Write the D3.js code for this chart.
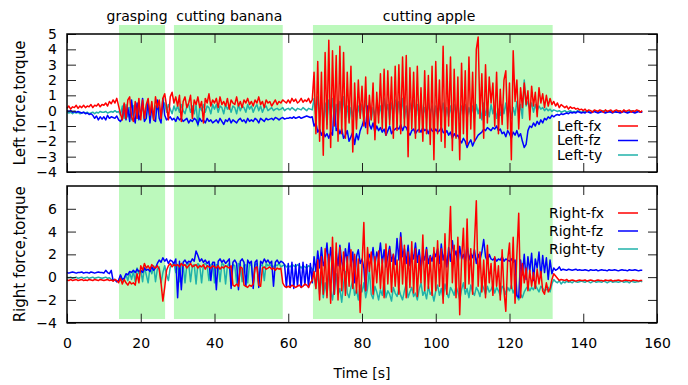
<!DOCTYPE html>
<html lang="en">
<head>
<meta charset="UTF-8">
<title>Left / right force and torque</title>
<script src="https://d3js.org/d3.v7.min.js"></script>
<style>
  body { margin: 0; background: #fff; }
  text { font-family: "DejaVu Sans", sans-serif; }
</style>
</head>
<body>
<div id="chart"></div>
<script>
// sampling step of the logged signals (s)
const tStep = 0.5;

// shaded task phases [start, end] in seconds
const phases = [
  {name: "grasping", from: 14.1, to: 26.6, labelAt: 19.0},
  {name: "cutting banana", from: 29.0, to: 58.5, labelAt: 44.0},
  {name: "cutting apple", from: 66.7, to: 131.7, labelAt: 98.2}
];

// left arm
const leftFx = [
  0.15,0.3,0.1,0.25,0.2,0.35,0.15,0.3,0.2,0.35, 0.2,0.3,0.25,0.4,0.2,0.35,0.3,0.45,0.25,0.4,
  0.35,0.5,0.3,0.6,0.45,0.7,0.5,0.8,0.3,-0.2, -0.6,0.5,-0.5,0.7,0.9,-0.4,-0.7,0.6,-0.5,0.8,
  -0.6,0.7,-0.5,0.4,0.8,-0.3,0.6,-0.6,0.9,0.2, 0.7,-0.5,0.8,1.1,0.3,-0.6,0.9,1.2,0.5,0.9,
  0.3,1.0,-0.7,0.6,0.9,0.2,0.5,1.0,-0.5,0.7, 0.4,0.9,0.2,0.6,-0.8,0.8,0.5,1.1,0.3,0.7,
  0.5,0.8,0.2,0.9,0.4,0.6,0.3,0.8,0.1,0.7, 0.5,0.4,0.9,0.3,0.6,0.2,0.7,0.5,0.8,0.4,
  0.6,0.3,0.7,0.5,0.9,0.4,0.6,0.2,0.7,0.5, 0.6,0.3,0.5,0.7,0.4,0.6,0.5,0.7,0.6,0.5,
  0.7,0.5,0.8,0.6,0.75,0.5,0.6,0.8,0.55,0.7, 0.6,0.8,0.5,0.7,2.5,-1.5,3.2,-2.0,2.5,-2.9,
  3.8,-1.2,4.6,-2.4,3.9,-1.0,3.6,-2.0,4.2,-1.5, 3.8,-1.8,2.5,-0.8,2.9,-2.7,1.8,-1.2,2.0,-0.5,
  1.6,-1.0,2.2,-1.5,1.0,-0.6,1.8,-1.9,1.2,-0.8, 2.4,-1.2,2.7,-1.6,2.6,-0.9,2.2,-1.8,2.9,-1.3,
  3.0,-1.5,3.5,-1.0,3.6,-3.0,2.8,-1.2,2.5,-1.8, 2.9,-1.4,1.5,-2.0,2.6,-1.5,2.3,-2.2,2.9,-3.2,
  3.2,-1.5,2.0,-2.0,4.2,-2.4,3.0,-1.0,3.5,-2.6, 2.7,-1.8,2.2,-3.2,3.1,-1.5,2.6,-2.2,3.5,-1.2,
  2.5,-2.0,4.0,4.8,-0.5,2.4,-1.8,3.0,-0.8,2.2, 0.5,1.8,-1.0,2.5,-1.5,1.4,-0.9,2.0,2.6,-1.2,
  1.8,-3.2,3.9,0.6,2.0,-1.2,1.5,0.2,1.8,0.4, 1.3,-0.6,1.6,0.3,1.2,-0.4,1.5,0.5,1.1,0.2,
  1.0,0.3,0.8,0.4,0.6,0.3,0.5,0.2,0.4,0.3, 0.2,0.3,0.1,0.25,0.15,0.2,0.1,0.15,0.05,0.1,
  0.0,0.1,-0.05,0.05,0.0,-0.1,0.05,0.0,-0.05,0.05, 0.0,-0.1,0.05,-0.05,0.0,0.05,-0.1,0.0,0.05,-0.05,
  0.0,-0.1,0.05,-0.05,0.0,0.05,-0.1,0.0,-0.05,0.05,0.0,-0.1,0.0
];
const leftFz = [
  0.0,-0.05,0.0,-0.1,-0.05,-0.1,-0.05,-0.1,-0.15,-0.1, -0.2,-0.15,-0.25,-0.2,-0.3,-0.5,-0.35,-0.6,-0.4,-0.55,
  -0.4,-0.6,-0.3,-0.5,-0.4,-0.45,-0.5,-0.35,-0.6,-0.7, -0.5,0.4,-0.6,0.2,-0.7,0.7,-0.3,-0.8,0.5,-0.6,
  -0.2,0.8,-0.7,-0.5,0.6,-0.8,0.3,-0.6,-0.7,0.7, -0.5,-0.8,0.8,-0.3,-0.6,-0.5,-0.4,-0.6,-0.5,-0.7,
  -0.4,-0.6,-0.5,-0.7,-0.6,-0.5,-0.8,-0.6,-0.7,-0.5, -0.6,-0.9,-0.5,-0.7,-0.6,-0.8,-0.5,-0.7,-0.6,-0.8,
  -0.7,-0.6,-0.8,-0.5,-0.7,-0.9,-0.6,-0.7,-0.5,-0.8, -0.6,-0.7,-0.8,-0.6,-0.5,-0.7,-0.6,-0.8,-0.5,-0.7,
  -0.6,-0.7,-0.5,-0.6,-0.8,-0.5,-0.6,-0.7,-0.5,-0.6, -0.55,-0.5,-0.6,-0.45,-0.5,-0.6,-0.5,-0.45,-0.55,-0.5,
  -0.5,-0.45,-0.5,-0.4,-0.5,-0.45,-0.4,-0.5,-0.45,-0.4, -0.35,-0.4,-0.45,-0.4,-1.0,-0.8,-1.4,-1.2,-1.6,-1.3,
  -1.7,-1.5,-1.8,-1.4,-1.6,0.5,-1.3,-1.1,-1.5,-1.2, -1.8,-1.6,-1.3,-2.0,-1.7,-1.4,-2.2,-1.5,-1.9,-1.3,
  -1.0,-0.6,-1.1,0.3,-0.9,-1.2,-0.8,-1.4,-1.0,-1.3, -1.1,-1.4,-1.2,-1.6,-1.3,-1.0,-1.5,-1.3,-1.2,-1.1,
  -1.2,-0.9,-1.3,-1.0,-1.1,-1.4,-1.6,-1.3,-1.2,-1.5, -1.3,-1.2,-1.4,-1.1,-1.3,-1.2,-1.5,-1.1,-1.3,-1.4,
  -1.2,-1.4,-1.3,-1.1,-1.4,-1.5,-1.3,-1.6,-1.4,-1.8, -1.5,-1.7,-1.6,-1.9,-2.1,-1.8,-2.0,-2.4,-2.1,-1.9,
  -2.3,-2.0,-1.8,-1.6,-1.5,-1.4,-1.2,-1.3,-1.1,-1.2, -1.3,-1.1,-1.2,-1.0,-1.3,-1.2,-1.5,-1.4,-1.7,-1.3,
  -1.5,-1.8,-1.4,-1.6,-1.3,-1.7,-1.5,-2.0,-2.4,-2.2, -1.3,-1.0,-1.1,-0.8,-1.0,-0.7,-0.9,-0.6,-0.8,-0.5,
  -0.6,-0.4,-0.5,-0.3,-0.4,-0.3,-0.25,-0.3,-0.2,-0.25, -0.2,-0.15,-0.2,-0.1,-0.15,-0.1,-0.15,-0.05,-0.1,-0.15,
  -0.1,-0.15,-0.05,-0.1,-0.15,-0.1,-0.05,-0.1,-0.15,-0.1, -0.05,-0.1,-0.15,-0.1,-0.05,-0.1,-0.15,-0.05,-0.1,-0.1,
  -0.15,-0.1,-0.05,-0.1,-0.15,-0.1,-0.05,-0.1,-0.15,-0.1,-0.05,-0.1,-0.1
];
const leftTy = [
  -0.1,-0.15,-0.1,-0.2,-0.1,-0.15,-0.1,-0.2,-0.15,-0.1, -0.15,-0.1,-0.2,-0.15,-0.1,-0.2,-0.1,-0.15,-0.05,-0.1,
  -0.1,-0.05,-0.15,-0.1,-0.05,-0.1,0.0,-0.1,-0.05,-0.3, 0.3,-0.5,0.4,-0.4,0.2,-0.6,0.3,0.4,-0.5,0.2,
  -0.3,0.4,-0.6,0.3,0.1,-0.4,0.5,-0.5,0.3,0.1, 0.2,-0.3,0.3,0.5,-0.1,0.4,0.1,-0.2,0.3,0.0,
  0.3,-0.1,0.4,0.0,-0.2,0.3,0.4,-0.1,0.3,-0.2, 0.4,-1.0,0.3,0.0,0.4,-0.1,0.3,0.2,-0.2,0.4,
  0.1,0.4,-0.1,0.3,0.2,-0.2,0.4,0.1,0.3,-0.1, 0.3,0.2,-0.2,0.4,0.0,0.3,0.2,-0.1,0.4,0.1,
  0.3,-0.1,0.2,0.4,0.0,0.3,-0.1,0.2,0.3,0.0, 0.1,0.2,0.0,0.1,0.15,0.05,0.1,0.2,0.0,0.1,
  0.15,0.05,0.2,0.1,0.0,0.15,0.1,0.05,0.2,0.1, 0.0,0.15,0.1,0.05,0.8,-0.4,0.9,-0.2,0.5,-0.8,
  0.5,-0.9,0.7,-0.3,0.8,-0.6,0.4,-0.8,0.6,-0.2, 0.9,-0.5,0.3,-0.7,0.2,-0.4,0.6,-0.6,0.3,-0.3,
  0.4,-0.5,0.7,-0.2,0.5,-0.6,0.2,-0.4,0.6,-0.3, 0.3,-0.5,0.8,-0.1,0.4,-0.6,0.5,-0.2,0.7,-0.4,
  0.6,-0.3,0.8,-0.5,0.3,-0.8,0.5,-0.2,0.7,-0.4, 0.4,-0.6,0.6,-0.3,0.2,-0.5,0.5,-0.2,0.3,-0.6,
  0.3,-0.5,0.4,-0.2,0.5,-0.6,0.2,-0.4,0.3,-0.5, 0.4,-0.3,0.5,-0.6,0.3,-0.2,0.4,-0.5,0.2,-0.3,
  0.3,-0.5,0.4,-0.2,0.3,-0.6,0.5,-0.3,0.2,-0.4, 0.4,-0.2,0.3,-0.5,0.1,-0.3,0.4,-0.2,0.5,-0.4,
  0.3,-0.5,0.2,-0.3,0.6,-0.2,0.4,-0.5,2.0,0.3, 0.6,0.1,0.5,-0.1,0.4,0.0,0.3,0.1,0.2,0.0,
  0.15,0.0,0.1,-0.05,0.05,0.0,-0.05,0.0,-0.1,-0.05, 0.0,-0.1,-0.05,0.0,-0.1,-0.05,-0.1,0.0,-0.05,-0.1,
  -0.05,-0.1,0.0,-0.05,-0.1,-0.05,0.0,-0.1,-0.05,-0.1, -0.05,0.0,-0.1,-0.05,-0.1,0.0,-0.05,-0.1,-0.05,0.0,
  -0.1,-0.05,0.0,-0.1,-0.05,-0.1,0.0,-0.05,-0.1,-0.05,0.0,-0.1,-0.05
];

// right arm
const rightFx = [
  -0.25,-0.3,-0.2,-0.3,-0.25,-0.2,-0.3,-0.25,-0.2,-0.3, -0.25,-0.3,-0.2,-0.25,-0.3,-0.2,-0.25,-0.3,-0.2,-0.25,
  -0.3,-0.25,-0.2,-0.3,-0.25,-0.35,-0.2,-0.3,-0.5,-0.1, -0.6,-0.2,-0.5,-0.7,-0.4,-0.6,-0.5,-0.7,0.3,-0.5,
  1.0,0.6,1.2,0.8,1.0,0.7,1.1,0.9,0.8,1.0, 0.7,-0.5,-2.1,-0.9,0.6,1.0,1.2,0.9,1.1,1.0,
  1.1,0.9,1.2,1.0,1.1,0.8,1.0,1.2,0.9,1.0, 1.1,0.8,1.0,0.9,1.1,0.7,1.0,0.9,0.8,1.0,
  0.9,0.8,1.0,0.7,0.9,0.8,1.0,0.9,0.8,1.0, -0.7,-0.8,-0.6,-0.8,0.9,0.8,-0.7,-0.8,-0.9,-0.7,
  -0.8,-0.6,0.8,0.9,-0.7,-0.8,0.8,0.9,0.7,0.8, 0.9,0.7,0.8,0.6,0.8,0.7,0.8,-0.5,-0.8,-0.9,
  -0.8,-0.9,-0.7,-0.8,-0.9,-0.8,-0.7,-0.9,-0.8,-0.6, -0.7,-0.9,-0.5,-0.3,0.5,-1.0,1.5,-2.0,1.8,-1.5,
  2.5,-1.8,2.0,-2.3,3.5,-1.5,3.0,-2.0,2.6,-1.2, 2.2,-1.6,1.8,-0.8,2.4,-1.0,2.0,-1.4,1.6,-3.1,
  1.0,4.8,-1.2,2.6,0.5,2.2,-1.5,1.8,-0.5,2.3, -1.0,1.6,-1.8,2.9,-0.6,2.4,-1.3,2.0,-0.8,1.5,
  -1.5,3.5,-0.6,2.8,-1.8,2.2,-0.9,3.1,-1.4,2.5, -1.7,1.9,-0.5,3.7,-1.2,2.4,-1.0,1.8,-1.6,2.6,
  -1.2,3.2,-0.8,2.5,-2.3,3.8,-1.5,2.0,6.2,-0.5, 2.8,-1.8,3.5,-3.3,1.5,4.3,-1.0,5.1,-0.6,2.5,
  -1.5,3.0,6.7,-0.8,2.2,-1.3,1.5,-1.8,2.8,-0.5, 1.2,-1.6,1.8,-0.8,1.0,-2.0,2.4,-1.2,-3.0,1.5,
  3.0,-1.0,3.5,-2.3,2.0,5.6,-1.8,1.2,-0.5,0.8, -1.2,0.6,-0.8,0.4,-1.0,0.7,-0.6,0.5,-1.2,-1.5,
  -0.5,-1.3,-1.0,-0.2,0.3,0.1,-0.1,-0.3,-0.2,-0.25, -0.3,-0.2,-0.35,-0.3,-0.25,-0.3,-0.35,-0.3,-0.25,-0.3,
  -0.3,-0.25,-0.35,-0.3,-0.25,-0.3,-0.35,-0.3,-0.25,-0.3, -0.3,-0.35,-0.25,-0.3,-0.3,-0.25,-0.35,-0.3,-0.3,-0.25,
  -0.3,-0.35,-0.3,-0.25,-0.3,-0.3,-0.35,-0.25,-0.3,-0.3,-0.35,-0.3,-0.3
];
const rightFz = [
  0.4,0.35,0.4,0.45,0.4,0.35,0.4,0.4,0.45,0.35, 0.4,0.4,0.35,0.45,0.4,0.35,0.4,0.45,0.4,0.4,
  0.35,0.6,0.4,0.3,0.6,-0.3,-0.2,-0.4,-0.3,0.2, -0.2,-0.1,0.3,0.2,0.5,0.4,0.6,0.4,0.7,0.5,
  0.6,0.4,0.8,0.6,0.7,0.5,0.9,0.6,0.8,1.2, 1.5,1.3,1.7,1.4,1.6,1.2,1.5,1.4,1.2,1.6,
  -1.8,1.4,-1.1,1.3,1.5,1.2,1.4,1.3,1.6,1.4, 2.3,1.9,1.4,1.6,1.3,1.5,1.2,1.4,-0.3,1.3,
  1.3,-1.1,1.4,1.6,1.3,1.5,1.2,1.4,1.6,-1.0, 1.3,1.5,1.2,-1.1,1.4,1.6,1.3,-0.8,1.5,1.2,
  1.4,-1.0,1.3,1.5,-0.9,1.4,1.2,1.6,1.3,1.5, 1.2,1.4,-0.8,1.3,1.5,1.2,1.4,1.3,1.1,-0.9,
  1.2,-0.9,1.3,-1.0,1.1,-0.8,1.2,-0.9,1.3,-0.7, 1.1,-0.9,1.2,-0.5,1.8,0.5,2.3,0.8,2.6,1.0,
  1.5,3.0,0.8,2.6,1.2,-1.5,2.2,1.0,2.8,1.4, 0.6,2.5,1.3,3.0,1.0,2.2,-0.5,1.8,2.4,1.2,
  1.6,0.8,-1.2,1.5,2.0,1.3,2.6,1.0,2.2,1.6, 3.0,1.2,2.4,0.9,1.8,2.7,1.4,2.0,1.1,3.4,
  1.5,3.9,1.8,2.5,1.2,2.8,1.0,2.2,1.6,3.0, 1.3,2.4,0.8,2.0,1.5,2.6,1.2,1.9,1.4,2.2,
  1.8,2.5,1.2,2.9,1.5,2.2,0.9,2.6,1.4,3.2, 1.8,2.3,1.1,2.7,1.6,2.0,1.3,2.8,1.5,2.1,
  1.7,2.4,1.2,2.0,1.5,2.2,3.3,1.8,1.4,2.0, 1.6,1.5,1.7,1.4,1.6,1.5,1.8,1.4,1.6,1.5,
  1.4,1.6,1.3,1.5,-1.6,-1.8,1.5,0.2,2.0,-0.2, 1.8,0.5,2.1,-0.3,1.6,0.8,2.2,0.0,1.9,0.4,
  1.7,-0.2,1.5,0.3,0.8,0.6,0.7,0.9,0.6,0.7, 0.65,0.6,0.7,0.65,0.6,0.65,0.7,0.6,0.65,0.6,
  0.6,0.65,0.6,0.55,0.65,0.6,0.6,0.65,0.55,0.6, 0.65,0.6,0.6,0.55,0.65,0.6,0.6,0.65,0.6,0.55,
  0.6,0.65,0.6,0.6,0.55,0.65,0.6,0.6,0.65,0.6,0.55,0.6,0.6
];
const rightTy = [
  0.0,-0.05,0.0,-0.1,-0.05,0.0,-0.1,-0.05,0.0,-0.1, -0.05,0.0,-0.1,-0.05,0.0,-0.1,-0.05,0.0,-0.05,-0.1,
  -0.05,0.0,-0.1,-0.05,-0.2,-0.3,-0.2,-0.4,-0.3,0.1, -0.4,-0.2,0.2,-0.3,0.4,-0.2,0.5,-0.4,0.8,0.3,
  0.6,-0.4,0.9,0.2,-0.5,0.8,0.3,1.0,-0.4,0.7, 0.9,-0.5,0.4,1.0,0.2,-0.3,0.9,1.1,1.2,0.4,
  1.1,-0.4,1.2,1.0,-0.5,1.1,1.2,-0.4,1.0,1.1, -0.6,1.2,1.0,-0.5,1.1,1.2,1.0,-0.3,1.1,1.2,
  -0.5,1.1,1.0,-0.4,1.2,1.1,-0.6,1.0,1.2,-0.3, 1.1,1.0,-0.5,1.2,1.1,-0.4,1.0,1.1,-0.5,1.2,
  1.0,-0.4,1.1,1.2,-0.5,1.0,1.1,-0.3,1.2,1.0, 1.1,1.0,0.9,1.1,1.0,1.2,0.9,1.0,1.1,0.9,
  1.0,0.9,1.1,1.0,0.9,1.1,1.0,0.8,1.0,0.9, 0.8,1.0,0.9,0.7,0.2,-1.0,0.5,-1.5,0.3,-1.8,
  -0.5,-1.6,0.4,-1.2,-2.0,-0.8,0.3,-1.5,-1.0,-2.2, -0.6,0.5,-1.4,-1.8,-0.9,-0.3,-1.6,-1.1,-2.0,-0.7,
  -1.3,-0.5,-1.8,-1.0,0.6,-1.5,-1.9,-0.8,-1.3,-2.0, -1.1,-1.6,-0.4,-1.8,-1.2,-1.5,-2.1,-0.9,-1.4,-1.7,
  -1.0,-1.6,-2.0,-1.2,-0.6,-1.8,-1.3,-0.9,-1.7,-1.4, -2.0,-1.1,-0.5,-1.6,-1.2,-1.9,-0.8,-1.5,-1.3,-2.1,
  -1.2,-0.7,-1.6,-1.0,-1.9,-0.6,-1.4,-1.8,-0.9,-1.2, -1.6,-0.8,-1.3,-2.0,-1.1,-0.5,-1.5,-1.0,-1.8,-0.7,
  -1.3,-1.6,-0.9,-1.2,-1.7,-0.6,-1.0,-1.5,-0.8,-1.3, -1.1,-0.7,-1.4,-0.9,-1.2,-1.6,-0.8,-1.0,-1.5,-0.9,
  -1.2,-0.7,-1.4,-1.0,-1.7,-2.0,-1.5,-1.8,-1.3,-1.0, -0.8,-1.2,-0.9,-1.1,-0.7,-1.0,-1.3,-0.8,-1.0,-1.2,
  -1.1,-0.9,-1.3,-0.6,-0.2,-0.4,-0.5,-0.3,-0.6,-0.4, -0.5,-0.35,-0.45,-0.4,-0.5,-0.35,-0.4,-0.45,-0.4,-0.35,
  -0.4,-0.45,-0.35,-0.4,-0.5,-0.4,-0.35,-0.45,-0.4,-0.4, -0.45,-0.35,-0.4,-0.5,-0.4,-0.35,-0.45,-0.4,-0.4,-0.45,
  -0.4,-0.35,-0.45,-0.4,-0.4,-0.5,-0.35,-0.4,-0.45,-0.4,-0.4,-0.35,-0.4
];

const xTicks = [0, 20, 40, 60, 80, 100, 120, 140, 160];
const topTicks = [-4, -3, -2, -1, 0, 1, 2, 3, 4, 5];
const botTicks = [-4, -2, 0, 2, 4, 6];

const width = 688, height = 385,
    left = 67, right = 657;

const colors = {fx: "#ff0000", fz: "#0000ff", ty: "#20b2aa"};

// two stacked panels
const panels = [
  {title: "Left force,torque", top: 34, bottom: 172, domain: [-4, 5], ticks: topTicks,
   series: [["Left-ty", leftTy, colors.ty], ["Left-fz", leftFz, colors.fz], ["Left-fx", leftFx, colors.fx]],
   legendX: 557, legendY: [126, 140.5, 155], xLabels: false},
  {title: "Right force,torque", top: 186, bottom: 322.7, domain: [-4, 8], ticks: botTicks,
   series: [["Right-ty", rightTy, colors.ty], ["Right-fz", rightFz, colors.fz], ["Right-fx", rightFx, colors.fx]],
   legendX: 549, legendY: [213, 231, 249], xLabels: true}
];

const x = d3.scaleLinear().domain([0, 160]).range([left, right]);

const svg = d3.select("#chart").append("svg")
    .attr("width", width)
    .attr("height", height)
    .style("font", "14px 'DejaVu Sans', sans-serif");

// phase shading spans both panels
svg.selectAll("rect.phase").data(phases).enter().append("rect")
    .attr("class", "phase")
    .attr("x", d => x(d.from))
    .attr("width", d => x(d.to) - x(d.from))
    .attr("y", 25)
    .attr("height", 319 - 25)
    .attr("fill", "#bcf9bc");

svg.selectAll("text.phase").data(phases).enter().append("text")
    .attr("class", "phase")
    .attr("x", d => x(d.labelAt))
    .attr("y", 21)
    .attr("text-anchor", "middle")
    .attr("fill", "#000")
    .text(d => d.name);

panels.forEach(p => {
    const y = d3.scaleLinear().domain(p.domain).range([p.bottom, p.top]);
    const g = svg.append("g");

    const line = d3.line()
        .x((d, i) => x(i * tStep))
        .y(d => y(d));

    g.selectAll("path.series").data(p.series).enter().append("path")
        .attr("class", "series")
        .attr("d", d => line(d[1]))
        .attr("fill", "none")
        .attr("stroke", d => d[2])
        .attr("stroke-width", 1.5)
        .attr("stroke-linejoin", "round");

    // axes with inward ticks like gnuplot, mirrored on the other sides
    const axL = g.append("g").attr("transform", `translate(${left},0)`)
        .call(d3.axisLeft(y).tickValues(p.ticks).tickSize(-9).tickPadding(10).tickFormat(d3.format("d")));
    const axR = g.append("g").attr("transform", `translate(${right},0)`)
        .call(d3.axisRight(y).tickValues(p.ticks).tickSize(-9).tickFormat(""));
    const axB = g.append("g").attr("transform", `translate(0,${p.bottom})`)
        .call(d3.axisBottom(x).tickValues(xTicks).tickSize(-9).tickPadding(15)
            .tickFormat(p.xLabels ? d3.format("d") : ""));
    const axT = g.append("g").attr("transform", `translate(0,${p.top})`)
        .call(d3.axisTop(x).tickValues(xTicks).tickSize(-9).tickFormat(""));

    [axL, axR, axB, axT].forEach(a => {
        a.select(".domain").remove();
        a.selectAll(".tick line").attr("stroke", "#222").attr("stroke-width", 1);
        a.selectAll("text").attr("font-size", 14).attr("font-family", "'DejaVu Sans', sans-serif").attr("fill", "#000");
    });

    g.append("rect")
        .attr("x", left).attr("y", p.top)
        .attr("width", right - left).attr("height", p.bottom - p.top)
        .attr("fill", "none").attr("stroke", "#000").attr("stroke-width", 1.5);

    g.append("text")
        .attr("transform", `translate(20,${(p.top + p.bottom) / 2}) rotate(-90)`)
        .attr("text-anchor", "middle")
        .attr("dy", "0.35em")
        .style("font-size", "15px")
        .text(p.title);

    // legend, in key order fx, fz, ty
    const keys = p.series.slice().reverse();
    const lg = g.selectAll("g.key").data(keys).enter().append("g")
        .attr("class", "key")
        .attr("transform", (d, i) => `translate(0,${p.legendY[i]})`);
    lg.append("text")
        .attr("x", p.legendX)
        .attr("dy", "0.35em")
        .text(d => d[0]);
    lg.append("line")
        .attr("x1", 618).attr("x2", 638)
        .attr("stroke", d => d[2])
        .attr("stroke-width", 1.5);
});

svg.append("text")
    .attr("x", x(80))
    .attr("y", 378)
    .attr("text-anchor", "middle")
    .text("Time [s]");
</script>
</body>
</html>
